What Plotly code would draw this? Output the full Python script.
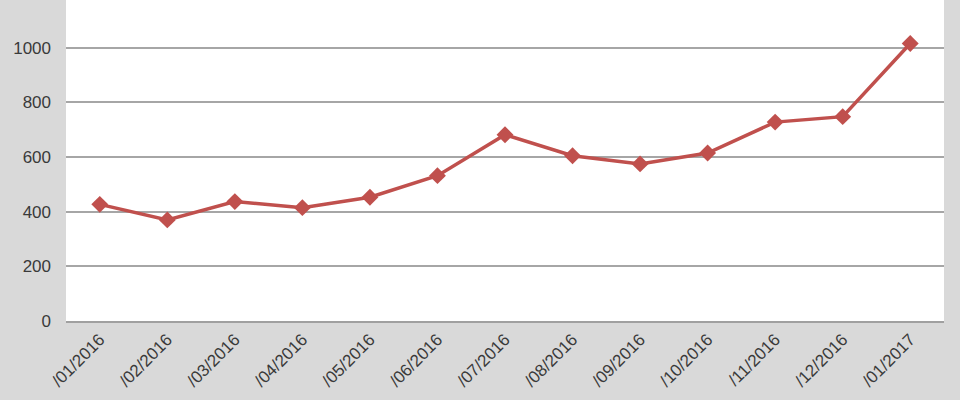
import plotly.graph_objects as go

categories = ["/01/2016", "/02/2016", "/03/2016", "/04/2016", "/05/2016", "/06/2016",
              "/07/2016", "/08/2016", "/09/2016", "/10/2016", "/11/2016", "/12/2016", "/01/2017"]
values = [427, 370, 437, 415, 453, 532, 682, 605, 575, 615, 728, 748, 1016]
y_ticks = [0, 200, 400, 600, 800, 1000, 1200]

x_idx = list(range(len(categories)))

fig = go.Figure()
fig.add_trace(go.Scatter(
    x=x_idx, y=values, mode="lines+markers",
    line=dict(color="#c0504d", width=3.5),
    marker=dict(symbol="diamond", size=13, color="#c0504d"),
    cliponaxis=False,
))

font = dict(family="Liberation Sans, Arial, sans-serif", size=17, color="#3a3a3a")
xfont = dict(family="Liberation Sans, Arial, sans-serif", size=17, color="#3a3a3a")

fig.update_layout(
    width=960, height=400,
    margin=dict(l=66, r=16, t=0, b=79, autoexpand=False),
    paper_bgcolor="#d9d9d9",
    plot_bgcolor="#ffffff",
    showlegend=False,
    font=font,
    xaxis=dict(
        tickmode="array", tickvals=x_idx, ticktext=categories,
        range=[-0.5, len(categories) - 0.5],
        tickangle=-45, showgrid=False, zeroline=False,
        showline=True, linecolor="#a0a0a0", linewidth=2,
        tickfont=xfont, fixedrange=True, automargin=False,
    ),
    yaxis=dict(
        range=[0, 1175], tickmode="array", tickvals=y_ticks,
        showgrid=True, gridcolor="#a6a6a6", gridwidth=1.5,
        zeroline=False, showline=False, automargin=False,
        tickfont=font, ticklabelstandoff=14,
    ),
    annotations=[dict(
        text=str(y_ticks[-1]), xref="paper", yref="y", x=0, y=y_ticks[-1],
        xanchor="right", yanchor="middle", xshift=-18, showarrow=False, font=font,
    )],
)

fig.write_html(
    "out.html",
    config={"displayModeBar": False},
    post_script="document.body.style.margin='0';document.body.style.padding='0';document.body.style.overflow='hidden';",
)
